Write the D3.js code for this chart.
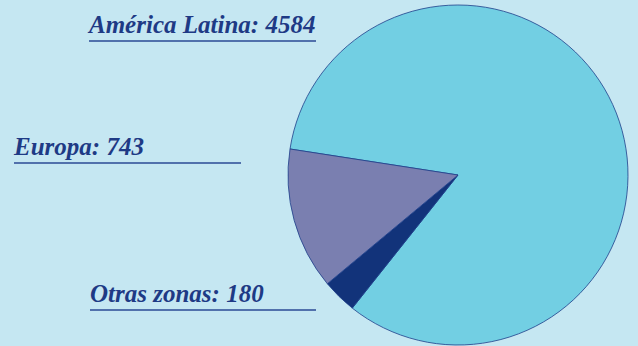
<!DOCTYPE html>
<html>
<head>
<meta charset="utf-8">
<script src="https://cdn.jsdelivr.net/npm/d3@7"></script>
<style>
  html, body { margin: 0; padding: 0; background: #c5e7f2; }
  svg { display: block; }
</style>
</head>
<body>
<div id="chart"></div>
<script>
// slices, clockwise from the América Latina / Europa border
const categories = ['América Latina', 'Otras zonas', 'Europa'];
const values = [4584, 180, 743];
const colors = ['#72cfe3', '#12337a', '#7a7fb0'];

const width = 638, height = 346;
const cx = 458, cy = 175, radius = 170;

const svg = d3.select('#chart').append('svg')
  .attr('width', width)
  .attr('height', height);

svg.append('rect')
  .attr('width', width).attr('height', height)
  .attr('fill', '#c5e7f2');

const start = -81.2 * Math.PI / 180;
const pie = d3.pie().sort(null).startAngle(start).endAngle(start + 2 * Math.PI);
const arc = d3.arc().innerRadius(0).outerRadius(radius);

const g = svg.append('g').attr('transform', `translate(${cx},${cy})`);
g.selectAll('path')
  .data(pie(values))
  .join('path')
    .attr('d', arc)
    .attr('fill', (d, i) => colors[i])
    .attr('stroke', '#1e3f8a')
    .attr('stroke-width', 0.8);

// labels with underline: [x, baseline, underline end]
const labelPos = {
  'América Latina': [89, 33, 316],
  'Europa': [14, 155, 241],
  'Otras zonas': [90, 302, 316]
};

categories.forEach((c, i) => {
  const [x, y, x2] = labelPos[c];
  svg.append('text')
    .attr('x', x).attr('y', y)
    .attr('font-family', '"Liberation Serif", serif')
    .attr('font-style', 'italic')
    .attr('font-weight', 'bold')
    .attr('font-size', 25)
    .attr('fill', '#1e3a85')
    .text(`${c}: ${values[i]}`);
  svg.append('line')
    .attr('x1', x).attr('x2', x2)
    .attr('y1', y + 8).attr('y2', y + 8)
    .attr('stroke', '#2a4a95')
    .attr('stroke-width', 1.5);
});
</script>
</body>
</html>
